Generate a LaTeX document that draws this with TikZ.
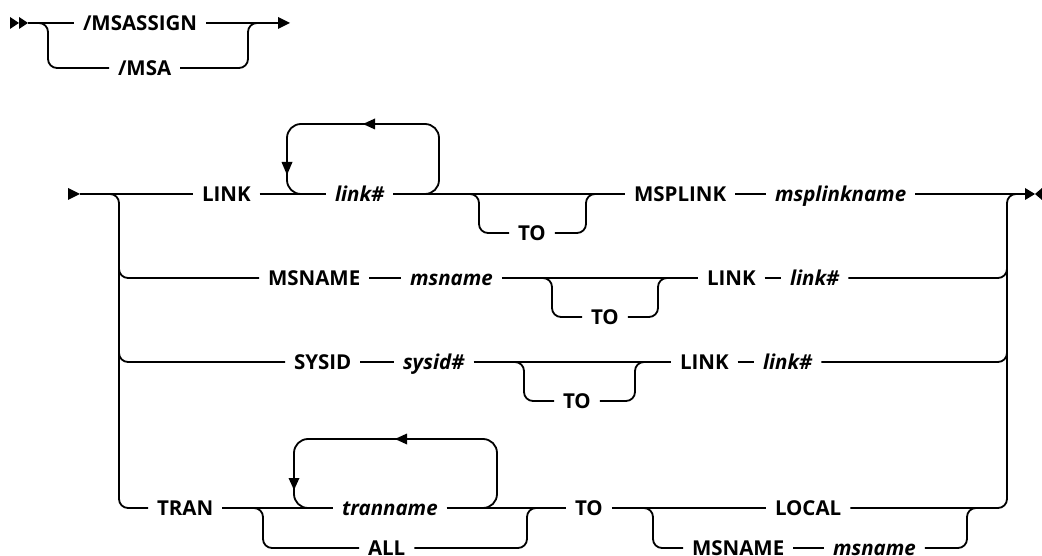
\documentclass[tikz,border=0pt]{standalone}
\usepackage{fontspec}
\setmainfont{Open Sans}
\begin{document}
\begin{tikzpicture}[x=1pt,y=-1pt, line width=1.8pt,
  txt/.style={inner sep=0pt, outer xsep=9pt, text height=14.6pt, text depth=0pt, anchor=west, font=\fontsize{20.5}{24}\selectfont\bfseries},
  var/.style={txt, font=\fontsize{20.5}{24}\selectfont\bfseries\itshape},
  rc/.style={rounded corners=9pt},
  lc/.style={rounded corners=14pt}]
\useasboundingbox (0,0) rectangle (1042,556);

% ---------- top diagram ----------
\node[txt] (msassign) at (74,23) {/MSASSIGN\hspace{4pt}};
\node[txt] (msa) at (109,68) {/MSA\hspace{3pt}};
\coordinate (s0) at (28,23);
\coordinate (e0) at (280,23);
\fill (10,17) -- (19,23) -- (10,29) -- cycle;
\fill (19,17) -- (28,23) -- (19,29) -- cycle;
\draw (s0) -- (msassign) -- (e0);
\fill (278,17) -- (290,23) -- (278,29) -- cycle;
\draw[rc] (32,23) -- (48,23) -- (48,68) -- (msa);
\draw[rc] (msa) -- (248,68) -- (248,23) -- (262,23);

% ---------- main diagram ----------
\fill (68,188) -- (80,194) -- (68,200) -- cycle;
\coordinate (s1) at (80,194);
\coordinate (e1) at (1025,194);
\fill (1025,188) -- (1035,194) -- (1025,200) -- cycle;
\fill (1042,188) -- (1035,194) -- (1042,200) -- cycle;

% row 1
\node[txt] (link1) at (193,194) {LINK};
\node[var] (linkv1) at (326,194) {link\#\hspace{4pt}};
\node[txt] (to1) at (509,233) {TO\hspace{2pt}};
\node[txt] (msplink) at (625,194) {MSPLINK\hspace{1pt}};
\node[var] (msplinkname) at (766,194) {msplinkname\hspace{12pt}};
\draw (s1) -- (link1) -- (linkv1) -- (msplink) -- (msplinkname) -- (e1);
\draw[lc] (305,194) -- (287,194) -- (287,124) -- (439,124) -- (439,194) -- (421,194);
\fill (375,118.5) -- (363,124) -- (375,129.5) -- cycle;
\fill (281.5,162) -- (287,175) -- (292.5,162) -- cycle;
\draw[rc] (465,194) -- (479,194) -- (479,233) -- (to1);
\draw[rc] (to1) -- (586,233) -- (586,194) -- (600,194);

% row 2
\node[txt] (msname) at (259,278) {MSNAME\hspace{5pt}};
\node[var] (msnamev) at (401,278) {msname\hspace{9pt}};
\node[txt] (to2) at (582,317) {TO\hspace{2pt}};
\node[txt] (link2) at (698,278) {LINK};
\node[var] (linkv2) at (781,278) {link\#\hspace{4pt}};
\draw (msname) -- (msnamev) -- (link2) -- (linkv2);
\draw[rc] (119,260) -- (119,278) -- (msname);
\draw[rc] (linkv2) -- (1007,278) -- (1007,260);
\draw[rc] (538,278) -- (552,278) -- (552,317) -- (to2);
\draw[rc] (to2) -- (658,317) -- (658,278) -- (672,278);

% row 3
\node[txt] (sysid) at (285,362) {SYSID\hspace{2pt}};
\node[var] (sysidv) at (394,362) {sysid\#\hspace{7pt}};
\node[txt] (to3) at (554,401) {TO\hspace{2pt}};
\node[txt] (link3) at (671,362) {LINK};
\node[var] (linkv3) at (754,362) {link\#\hspace{5pt}};
\draw (sysid) -- (sysidv) -- (link3) -- (linkv3);
\draw[rc] (119,344) -- (119,362) -- (sysid);
\draw[rc] (linkv3) -- (1007,362) -- (1007,344);
\draw[rc] (510,362) -- (524,362) -- (524,401) -- (to3);
\draw[rc] (to3) -- (635,401) -- (635,362) -- (649,362);

% row 4
\node[txt] (tran) at (148,508) {TRAN\hspace{2pt}};
\node[var] (tranname) at (333,508) {tranname\hspace{9pt}};
\node[txt] (all) at (359,548) {ALL\hspace{6pt}};
\node[txt] (to4) at (566,508) {TO};
\node[txt] (local) at (766,508) {LOCAL\hspace{1pt}};
\node[txt] (msname4) at (683,548) {MSNAME\hspace{5pt}};
\node[var] (msnamev4) at (824,548) {msname\hspace{9pt}};
\draw (tran) -- (tranname) -- (to4) -- (local);
\draw[lc] (312,508) -- (294,508) -- (294,439) -- (497,439) -- (497,508) -- (479,508);
\fill (407,433.5) -- (395,439) -- (407,444.5) -- cycle;
\fill (288.5,478) -- (294,490) -- (299.5,478) -- cycle;
\draw[rc] (249,508) -- (263,508) -- (263,548) -- (all);
\draw[rc] (all) -- (527,548) -- (527,508) -- (541,508);
\draw[rc] (639,508) -- (653,508) -- (653,548) -- (msname4);
\draw (msname4) -- (msnamev4);
\draw[rc] (msnamev4) -- (967,548) -- (967,508) -- (981,508);

% big brackets
\draw[rc] (s1) -- (119,194) -- (119,508) -- (tran);
\draw[rc] (local) -- (1007,508) -- (1007,194) -- (e1);
\end{tikzpicture}
\end{document}
